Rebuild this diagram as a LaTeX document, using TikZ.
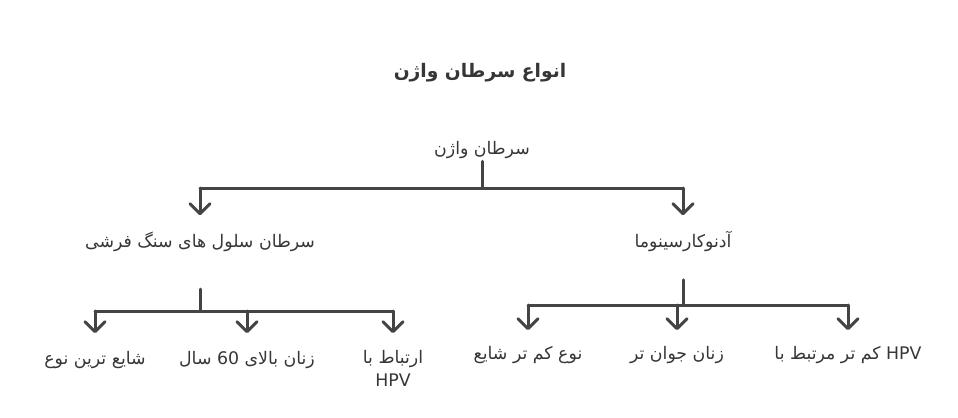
\documentclass[tikz,border=0pt]{standalone}
\usepackage{fontspec}
\setmainfont{DejaVu Sans}
\newfontfamily\arabicfont[Script=Arabic]{DejaVu Sans}
\TeXXeTstate=1
\usetikzlibrary{arrows.meta}
\definecolor{ink}{HTML}{363636}
\definecolor{stroke}{HTML}{444444}

\begin{document}
\begin{tikzpicture}[x=0.75pt,y=-0.75pt,
    txt/.style={text=ink,inner sep=0pt,font=\arabicfont\fontsize{13}{17.25}\selectfont},
    box/.style={txt,text height=10pt,text depth=4pt},
    link/.style={draw=stroke,line width=2.25pt,line cap=round,line join=round},
    >={Straight Barb[length=7.5pt,width=15pt,line cap=round,line join=round]}]
    \useasboundingbox (0,0) rectangle (958,418);
    % title and root
    \node[txt,font=\arabicfont\bfseries\fontsize{14}{18}\selectfont] (title) at (480,73) {\beginR انواع سرطان واژن\endR};
    \node[box] (root) at (482,150.5) {\beginR سرطان واژن\endR};
    \node[box] (sq) at (200,243.5) {\beginR سرطان سلول های سنگ فرشی\endR};
    \node[box] (adeno) at (683,243.5) {\beginR آدنوکارسینوما\endR};
    % leaves
    \node[box,anchor=north] (l1) at (95,350.5) {\beginR شایع ترین نوع\endR};
    \node[box,anchor=north] (l2) at (247,350.5) {\beginR زنان بالای \beginL 60\endL{} سال\endR};
    \node[txt,anchor=north,align=center] (l3) at (393,350.5) {\beginR ارتباط با\endR\\HPV};
    \node[box,anchor=north] (r1) at (528,345.5) {\beginR نوع کم تر شایع\endR};
    \node[box,anchor=north] (r2) at (677,345.5) {\beginR زنان جوان تر\endR};
    \node[box,anchor=north] (r3) at (848,345.5) {\beginR\beginL HPV\endL{} کم تر مرتبط با\endR};
    % junctions
    \coordinate (j0) at (482,188);
    \coordinate (j1) at (200,311);
    \coordinate (j2) at (683,305);
    % first level
    \draw[link,shorten <=1pt] (root) -- (j0);
    \draw[link] (j0 -| sq) -- (j0 -| adeno);
    \draw[link,->,shorten >=14pt] (j0 -| sq) -- (sq);
    \draw[link,->,shorten >=14pt] (j0 -| adeno) -- (adeno);
    % squamous branch
    \draw[link,shorten <=27pt] (sq) -- (j1);
    \draw[link] (j1 -| l1) -- (j1 -| l3);
    \draw[link,->,shorten >=13pt] (j1 -| l1) -- (l1);
    \draw[link,->,shorten >=13pt] (j1 -| l2) -- (l2);
    \draw[link,->,shorten >=13pt] (j1 -| l3) -- (l3);
    % adenocarcinoma branch
    \draw[link,shorten <=20pt] (adeno) -- (j2);
    \draw[link] (j2 -| r1) -- (j2 -| r3);
    \draw[link,->,shorten >=11.5pt] (j2 -| r1) -- (r1);
    \draw[link,->,shorten >=11.5pt] (j2 -| r2) -- (r2);
    \draw[link,->,shorten >=11.5pt] (j2 -| r3) -- (r3);
\end{tikzpicture}
\end{document}
